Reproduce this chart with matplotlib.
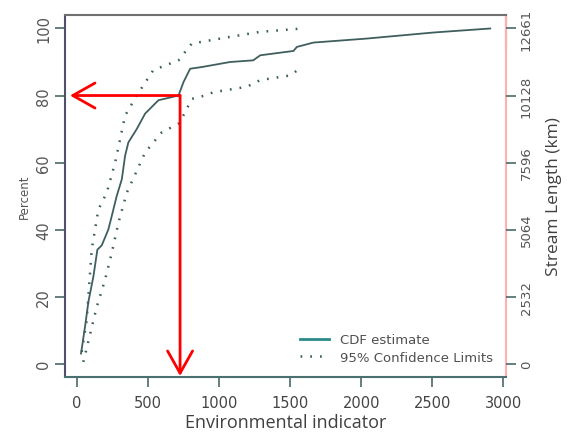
import matplotlib.pyplot as plt
import numpy as np

# CDF estimate (indicator value, percent)
cdf_x = [28, 56, 80, 115, 143, 174, 220, 244, 279, 315, 338, 361, 420, 479, 573,
         714, 749, 796, 878, 1077, 1240, 1289, 1523, 1547, 1663, 2040, 2507, 2908]
cdf_y = [3, 11, 18.5, 26, 34, 35.3, 40, 44, 50, 55, 62, 66, 70, 74.6, 78.6,
         80, 84, 88, 88.5, 90, 90.5, 92, 93.3, 94.5, 95.8, 97, 98.8, 100]

# 95% confidence limits
upper_x = [33, 68, 103, 150, 209, 268, 338, 420, 537, 714, 807, 1077, 1289, 1582]
upper_y = [3.5, 13, 34, 46, 51, 60, 74, 80, 87.6, 90.5, 95.5, 97.5, 99, 100]
lower_x = [44, 139, 197, 244, 291, 350, 479, 596, 714, 761, 807, 901, 960, 1195,
           1289, 1500, 1566]
lower_y = [0.5, 17, 25, 33, 42, 51, 63, 69, 71.6, 75, 79, 80, 81, 82.6, 84.6, 86, 88]

pct_ticks = [0, 20, 40, 60, 80, 100]
length_labels = ['0', '2532', '5064', '7596', '10128', '12661']
x_ticks = [0, 500, 1000, 1500, 2000, 2500, 3000]

# red guide: 80th percentile
guide_x = 725
guide_y = 80

line_col = '#3f5f5f'
tick_col = '#555555'

fig = plt.figure(figsize=(5.7, 4.35), dpi=100)
ax = fig.add_axes([0.114, 0.131, 0.774, 0.832])

ax.plot(cdf_x, cdf_y, color=line_col, lw=1.3, label='CDF estimate')
ax.plot(upper_x, upper_y, color=line_col, lw=1.8, ls=(0, (0.7, 3.2)),
        label='95% Confidence Limits')
ax.plot(lower_x, lower_y, color=line_col, lw=1.8, ls=(0, (0.7, 3.2)))

ax.set_xlim(-85, 3020)
ax.set_ylim(-4, 104)
ax.set_xticks(x_ticks)
ax.set_yticks(pct_ticks)
ax.set_yticklabels([str(v) for v in pct_ticks], rotation=90, va='center',
                   fontsize=10.5, color=tick_col)
ax.tick_params(axis='y', length=7, width=1.2, color='#4a6a6a', pad=3)
ax.tick_params(axis='x', length=7, width=1.2, color='#4a6a6a', labelsize=10.5,
               labelcolor='#444444', pad=6)
ax.set_ylabel('Percent', fontsize=8.5, color='#555555', labelpad=4)
ax.set_xlabel('Environmental indicator', family='Open Sans', fontsize=13,
              color='#404040', labelpad=2)

ax.spines['left'].set_color('#505068')
ax.spines['bottom'].set_color('#4a7070')
ax.spines['top'].set_color('#707070')
ax.spines['right'].set_color('#ffb0b0')
for s in ax.spines.values():
    s.set_linewidth(1.5)
ax.plot([1, 1], [0.91, 1], transform=ax.transAxes, color='#707070', lw=1.5,
        clip_on=False)

ax2 = ax.twinx()
ax2.set_ylim(ax.get_ylim())
ax2.set_yticks(pct_ticks)
ax2.set_yticklabels(length_labels, rotation=90, va='center', fontsize=9.5,
                    color=tick_col)
ax2.tick_params(axis='y', length=7, width=1.2, color='#4a6a6a', pad=3)
ax2.set_ylabel('Stream Length (km)', family='Open Sans', fontsize=12.5,
               color='#404040', labelpad=9)
for s in ax2.spines.values():
    s.set_visible(False)

# arrows
arr = dict(arrowstyle='->,head_length=0.8,head_width=0.45', color='red', lw=2,
           mutation_scale=20, shrinkA=0, shrinkB=0)
ax.annotate('', xy=(-50, guide_y), xytext=(guide_x, guide_y), arrowprops=arr)
ax.annotate('', xy=(guide_x, -3.7), xytext=(guide_x, guide_y), arrowprops=arr,
            annotation_clip=False)

leg = ax.legend(loc='lower right', bbox_to_anchor=(1.0, 0.0), frameon=False,
                fontsize=9.5, handlelength=2.2, labelspacing=0.35,
                borderaxespad=0.6)
leg.get_lines()[0].set_color('#2a8a8a')
leg.get_lines()[0].set_linewidth(2)
for t in leg.get_texts():
    t.set_color('#505050')

fig.savefig('out.png', dpi=100)
